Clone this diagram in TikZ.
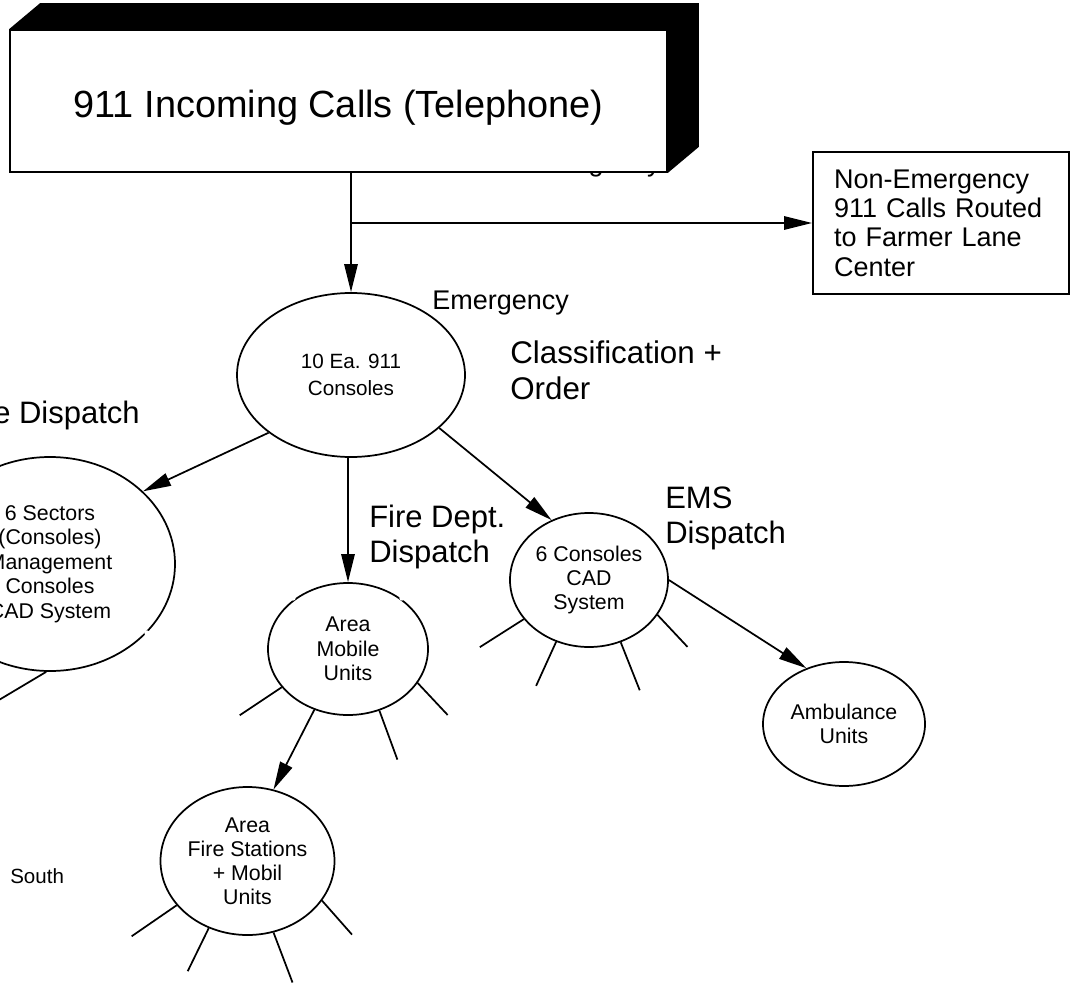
\documentclass[tikz,border=0pt]{standalone}
\usepackage{fontspec}
\setmainfont{Liberation Sans}
\usepackage{tikz}
\usetikzlibrary{shapes.geometric, arrows.meta, calc}
\newlength\pxu
\setlength\pxu{0.75pt}

\begin{document}
\begin{tikzpicture}[
    x=0.75pt, y=-0.75pt,
    unit/.style={ellipse, draw, line width=1.3pt, fill=white, inner sep=0pt, align=center, font=\fontsize{16}{18.3}\selectfont},
    callbox/.style={rectangle, draw, line width=1.3pt, fill=white, inner sep=0pt},
    tag/.style={anchor=base west, align=left, inner sep=0pt, font=\fontsize{23.25}{26.25}\selectfont},
    arrow/.style={-{Triangle[length=21pt, width=10pt]}, line width=1.3pt},
    spoke/.style={line width=1.3pt}
]
    % Visible part of the chart
    \useasboundingbox (0,0) rectangle (1073,984);
    \clip (0,0) rectangle (1073,984);

    % Label hidden behind the main box
    \node[tag, anchor=base east, font=\fontsize{20.25}{22}\selectfont] (hidden) at (661,171.5) {Non-Emergency};

    % Incoming calls
    \node[callbox, minimum width=657\pxu, minimum height=142\pxu, text height=30pt, text depth=4.5pt, font=\fontsize{28.4}{34}\selectfont] (calls) at (338.5,101) {911 Incoming Calls (Telephone)};
    \fill (calls.north west) -- ++(31,-26) -- ($(calls.north east)+(31,-26)$) -- ($(calls.south east)+(31,-26)$) -- (calls.south east) -- (calls.north east) -- cycle;

    % Centres
    \node[unit, minimum width=228\pxu, minimum height=164\pxu, font=\fontsize{15.5}{20}\selectfont] (con) at (351,375) {10 Ea. 911\\Consoles};
    \node[callbox, align=left, text width=214\pxu, inner xsep=21\pxu, minimum height=142\pxu, font=\fontsize{20.25}{22}\selectfont] (route) at (941,223) {Non-Emergency\\911 Calls Routed\\to Farmer Lane\\Center};
    \node[unit, minimum width=250\pxu, minimum height=214\pxu] (sect) at (50,564) {6 Sectors\\(Consoles)\\Management\\Consoles\\CAD System};
    \node[unit, minimum width=160\pxu, minimum height=132\pxu] (mobile) at (348,649) {Area\\Mobile\\Units};
    \node[unit, minimum width=158\pxu, minimum height=134\pxu] (ems) at (589,580) {6 Consoles\\CAD\\System};
    \node[unit, minimum width=162\pxu, minimum height=124\pxu] (amb) at (844,724) {Ambulance\\Units};
    \node[unit, minimum width=174\pxu, minimum height=148\pxu, font=\fontsize{16}{18}\selectfont] (station) at (247.5,861) {Area\\Fire Stations\\+ Mobil\\Units};

    % Labels (base = last line)
    \node[tag, font=\fontsize{20.25}{22}\selectfont] (emlbl) at (432,309) {Emergency};
    \node[tag, font=\fontsize{23.5}{27}\selectfont] (classlbl) at (510,399) {Classification +\\Order};
    \node[tag, anchor=base east] (leftlbl) at (140,423) {e Dispatch};
    \node[tag] (firelbl) at (369,562) {Fire Dept.\\Dispatch};
    \node[tag] (emslbl) at (665,543) {EMS\\Dispatch};
    \node[tag, font=\fontsize{15.4}{18}\selectfont] (southlbl) at (10,883) {South};

    % Call flow
    \draw[arrow] (calls.south -| con.north) -- (con.north);
    \draw[arrow] (route.west -| con.north) -- (route.west);
    \draw[arrow] (con.215) -- (sect.38);
    \draw[arrow] (con.south -| mobile.north) -- (mobile.north);
    \draw[arrow] (con.-31) -- (ems.122.6);
    \draw[arrow] (ems.east) -- (amb.124);
    \draw[arrow] (mobile.241.6) -- (station.70.5);

    % Unit spokes
    \draw[spoke] (sect.268) -- ++(-94,56);
    \foreach \a/\dx/\dy in {210/-42/28, 297/18/49, 334/30/32}
        \draw[spoke] (mobile.\a) -- ++(\dx,\dy);
    \foreach \a/\dx/\dy in {211/-44/28, 242/-20/44, 297/19/48, 333/30/32}
        \draw[spoke] (ems.\a) -- ++(\dx,\dy);
    \foreach \a/\dx/\dy in {212/-45/31, 240/-21/43, 290/19/50, 332/30/34}
        \draw[spoke] (station.\a) -- ++(\dx,\dy);

    % Small breaks in the outlines
    \foreach \p in {(147,633), (293,598), (402,598)}
        \fill[white] \p circle[radius=2pt];
\end{tikzpicture}
\end{document}
